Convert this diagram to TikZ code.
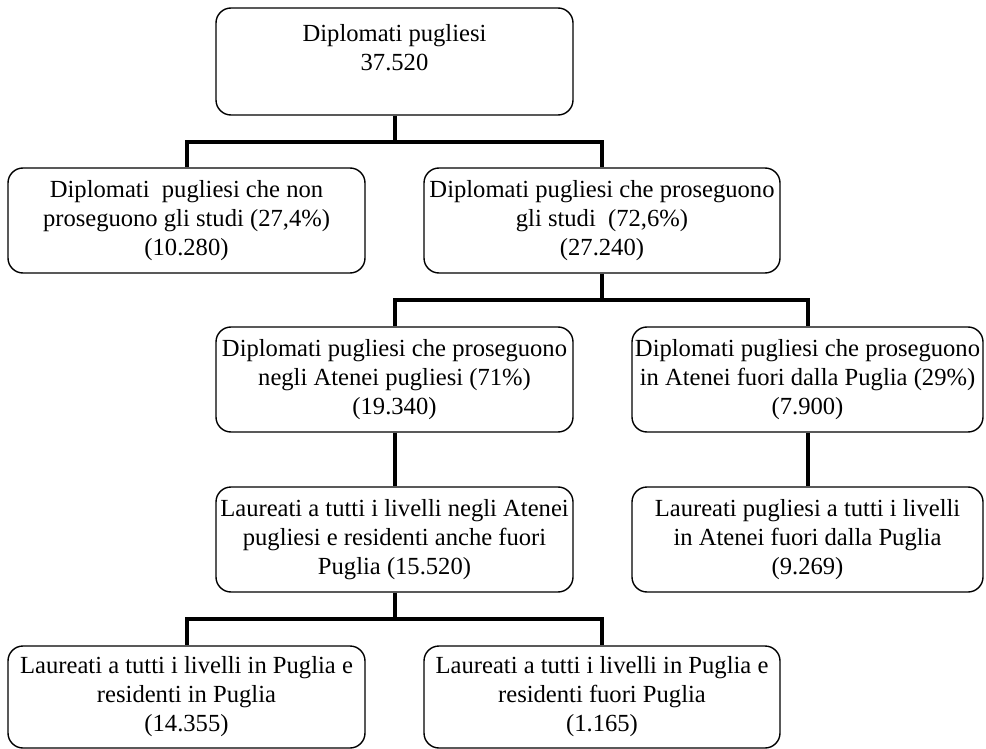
\documentclass[tikz,border=0pt]{standalone}
\usepackage{fontspec}
\setmainfont{Liberation Serif}
\begin{document}
\begin{tikzpicture}[x=1pt,y=-1pt,
  box/.style={draw, line width=1.4pt, rounded corners=15pt, align=center,
    inner sep=0pt, minimum height=105pt,
    font=\fontsize{24.6}{29}\selectfont},
  wide/.style={box, minimum width=357pt},
  wideb/.style={box, minimum width=351pt},
  conn/.style={line width=4pt, line join=miter}]
\useasboundingbox (0,0) rectangle (986,749);

% boxes
\node[wide, minimum height=107pt] (top) at (394.5,61.5)
  {Diplomati pugliesi\\37.520\\\mbox{}};
\node[wide] (nopro) at (186.5,220.5)
  {Diplomati~ pugliesi che non\\proseguono gli studi (27,4\%)\\(10.280)};
\node[wide, minimum width=356pt] (pro) at (602,220.5)
  {Diplomati pugliesi che proseguono\\gli studi~ (72,6\%)\\(27.240)};
\node[wide] (inpu) at (394.5,379.5)
  {Diplomati pugliesi che proseguono\\negli Atenei pugliesi (71\%)\\(19.340)};
\node[wideb] (outpu) at (807.5,379.5)
  {Diplomati pugliesi che proseguono\\in Atenei fuori dalla Puglia (29\%)\\(7.900)};
\node[wide] (laupu) at (394.5,539.5)
  {Laureati a tutti i livelli negli Atenei\\pugliesi e residenti anche fuori\\Puglia (15.520)};
\node[wideb] (lauout) at (807.5,539.5)
  {Laureati pugliesi a tutti i livelli\\in Atenei fuori dalla Puglia\\(9.269)};
\node[wide, minimum height=102pt] (resin) at (186.5,697)
  {Laureati a tutti i livelli in Puglia e\\residenti in Puglia\\(14.355)};
\node[wide, minimum width=356pt, minimum height=102pt] (resout) at (602,697)
  {Laureati a tutti i livelli in Puglia e\\residenti fuori Puglia\\(1.165)};

% bus levels of the elbow connectors
\coordinate (busA) at (0,142);
\coordinate (busB) at (0,300);
\coordinate (busC) at (0,619);

% connectors
\draw[conn] (top.south) -- (top.south |- busA) -| (nopro.north);
\draw[conn] (top.south |- busA) -| (pro.north);
\draw[conn] (pro.south) -- (pro.south |- busB) -| (inpu.north);
\draw[conn] (pro.south |- busB) -| (outpu.north);
\draw[conn] (inpu.south) -- (laupu.north);
\draw[conn] (outpu.south) -- (lauout.north);
\draw[conn] (laupu.south) -- (laupu.south |- busC) -| (resin.north);
\draw[conn] (laupu.south |- busC) -| (resout.north);
\end{tikzpicture}
\end{document}
